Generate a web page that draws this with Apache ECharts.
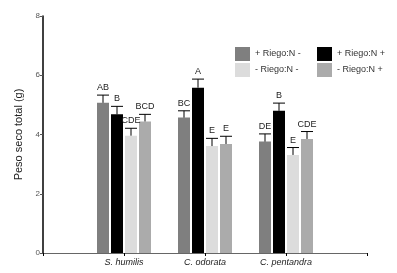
<!DOCTYPE html>
<html>
<head>
<meta charset="utf-8">
<script src="https://cdn.jsdelivr.net/npm/echarts@6/dist/echarts.min.js"></script>
<style>
  html, body { margin: 0; padding: 0; background: #fff; }
  #chart { width: 397px; height: 273px; }
</style>
</head>
<body>
<div id="chart"></div>
<script>
// categories (empty ends keep the axis running from 0 to the last tick)
var especies = ['', 'S. humilis', 'C. odorata', 'C. pentandra', ''];
var tratamientos = ['+ Riego:N -', '+ Riego:N +', '- Riego:N -', '- Riego:N +'];
var colores = ['#7f7f7f', '#000000', '#dcdcdc', '#ababab'];

// mean dry weight per treatment (S. humilis, C. odorata, C. pentandra)
var mediaRNm = [5.07, 4.57, 3.76];
var mediaRNp = [4.68, 5.58, 4.80];
var mediaSNm = [3.96, 3.61, 3.31];
var mediaSNp = [4.44, 3.68, 3.85];

// upper end of the error bars
var errRNm = [5.33, 4.80, 4.02];
var errRNp = [4.95, 5.87, 5.06];
var errSNm = [4.21, 3.87, 3.56];
var errSNp = [4.68, 3.94, 4.10];

// letters from the mean comparison
var letrasRNm = ['AB', 'BC', 'DE'];
var letrasRNp = ['B', 'A', 'B'];
var letrasSNm = ['CDE', 'E', 'E'];
var letrasSNp = ['BCD', 'E', 'CDE'];

var yTicks = [0, 2, 4, 6, 8];

var medias = [mediaRNm, mediaRNp, mediaSNm, mediaSNp];
var errores = [errRNm, errRNp, errSNm, errSNp];
var letras = [letrasRNm, letrasRNp, letrasSNm, letrasSNp];

var barW = 12, barGap = 2;

var myChart = echarts.init(document.getElementById('chart'));

var series = [];
medias.forEach(function (m, i) {
  series.push({
    name: tratamientos[i],
    type: 'bar',
    barWidth: barW,
    barGap: (barGap / barW * 100) + '%',
    itemStyle: { color: colores[i] },
    data: [null].concat(m).concat([null]),
    z: 2
  });
});

medias.forEach(function (m, i) {
  var data = m.map(function (v, k) {
    return [k + 1, v, errores[i][k], letras[i][k]];
  });
  series.push({
    type: 'custom',
    name: 'err' + i,
    z: 3,
    renderItem: function (params, api) {
      var base = api.coord([api.value(0), api.value(1)]);
      var top = api.coord([api.value(0), api.value(2)]);
      var off = (i - 1.5) * (barW + barGap);
      var x = base[0] + off;
      return {
        type: 'group',
        children: [
          { type: 'line', shape: { x1: x, y1: base[1], x2: x, y2: top[1] },
            style: { stroke: '#000', lineWidth: 1 } },
          { type: 'line', shape: { x1: x - barW / 2, y1: top[1], x2: x + barW / 2, y2: top[1] },
            style: { stroke: '#000', lineWidth: 1 } },
          { type: 'text', x: x, y: top[1] - 3,
            style: { text: letras[i][api.value(0) - 1], fill: '#222', font: '9px Arial, "Liberation Sans"',
              align: 'center', verticalAlign: 'bottom' } }
        ]
      };
    },
    data: data
  });
});

myChart.setOption({
  animation: false,
  backgroundColor: '#fff',
  textStyle: { fontFamily: 'Arial, "Liberation Sans", sans-serif' },
  grid: { left: 43, right: 30, top: 16, bottom: 20 },
  legend: [{
    data: [tratamientos[0], tratamientos[2]],
    orient: 'vertical',
    left: 230, top: 42,
    itemWidth: 15, itemHeight: 14, itemGap: 2,
    icon: 'rect',
    textStyle: { fontSize: 9, color: '#333' }
  }, {
    data: [tratamientos[1], tratamientos[3]],
    orient: 'vertical',
    left: 312, top: 42,
    itemWidth: 15, itemHeight: 14, itemGap: 2,
    icon: 'rect',
    textStyle: { fontSize: 9, color: '#333' }
  }],
  xAxis: {
    type: 'category',
    data: especies,
    boundaryGap: false,
    axisLine: { lineStyle: { color: '#666', width: 1 } },
    axisTick: { show: true, length: 3, lineStyle: { color: '#000' } },
    axisLabel: { fontSize: 9, fontStyle: 'italic', color: '#222', margin: 5, interval: 0 },
    splitLine: { show: false }
  },
  yAxis: {
    type: 'value',
    min: yTicks[0], max: yTicks[yTicks.length - 1], interval: 2,
    name: 'Peso seco total (g)',
    nameLocation: 'middle',
    nameGap: 18,
    nameTextStyle: { fontSize: 11, color: '#222' },
    axisLine: { show: true, lineStyle: { color: '#000', width: 1.5 } },
    axisTick: { show: true, length: 3, lineStyle: { color: '#555' } },
    axisLabel: { fontSize: 8, color: '#555', margin: 3 },
    splitLine: { show: false }
  },
  series: series
});
</script>
</body>
</html>
